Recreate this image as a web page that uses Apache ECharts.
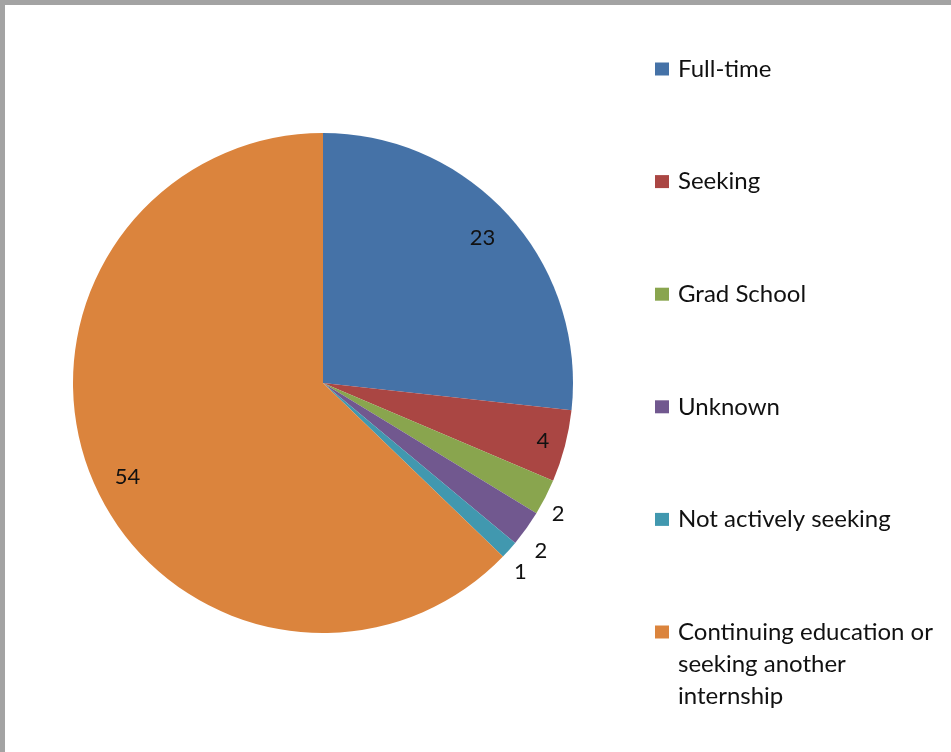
<!DOCTYPE html>
<html>
<head>
<meta charset="utf-8">
<script src="https://cdn.jsdelivr.net/npm/echarts@6/dist/echarts.min.js"></script>
<style>
  html, body { margin: 0; padding: 0; background: #fff; }
  #chart { width: 951px; height: 752px; }
</style>
</head>
<body>
<div id="chart"></div>
<script>
// data
const categories = ['Full-time', 'Seeking', 'Grad School', 'Unknown', 'Not actively seeking', 'Continuing education or\nseeking another\ninternship']
const counts = [23, 4, 2, 2, 1, 54]
const colors = ['#4572A7', '#AA4643', '#89A54E', '#71588F', '#4198AF', '#DB843D']
const insideLabel = [true, true, false, false, false, true]
// small label nudges (px) so numbers sit where the original placed them
const labelNudge = [[-5, 2], [6, 2], [-4, 8], [-1, 11], [-3, 9], [8, 7]]

const chart = echarts.init(document.getElementById('chart'))

const pieData = categories.map((name, i) => ({
  name: name,
  value: counts[i],
  itemStyle: { color: colors[i] }
}))

// label-only rings: inside labels near the rim, outside labels just past it
const labelRing = (showIt) => categories.map((name, i) => ({
  name: name,
  value: counts[i],
  itemStyle: { color: 'transparent' },
  label: { show: showIt(i), offset: labelNudge[i] }
}))

const center = [323, 383]
const labelFont = { fontFamily: 'Lato', fontSize: 22, color: '#111', formatter: '{c}' }

const legendText = {
  fontFamily: 'Lato',
  fontSize: 24,
  lineHeight: 32,
  color: '#111',
  padding: [0, 0, 0, 4]
}

chart.setOption({
  animation: false,
  backgroundColor: '#fff',
  legend: [{
    orient: 'vertical',
    left: 655,
    top: 53,
    padding: 0,
    itemWidth: 14,
    itemHeight: 13,
    itemGap: 80.6,
    icon: 'rect',
    selectedMode: false,
    data: categories.slice(0, 5),
    textStyle: legendText
  }, {
    // multi-line entry: two leading blank lines keep the icon on the first text line
    orient: 'vertical',
    left: 655,
    top: 552,
    padding: 0,
    itemWidth: 14,
    itemHeight: 13,
    icon: 'rect',
    selectedMode: false,
    data: categories.slice(5),
    formatter: name => '\n\n' + name,
    textStyle: legendText
  }],
  graphic: [
    { type: 'rect', left: 0, top: 0, shape: { width: 951, height: 5 }, style: { fill: '#a3a3a3' }, silent: true },
    { type: 'rect', left: 0, top: 0, shape: { width: 5, height: 752 }, style: { fill: '#a3a3a3' }, silent: true }
  ],
  series: [{
    type: 'pie',
    center: center,
    radius: [0, 250],
    startAngle: 90,
    clockwise: true,
    silent: true,
    label: { show: false },
    labelLine: { show: false },
    itemStyle: { borderWidth: 0 },
    data: pieData
  }, {
    type: 'pie',
    center: center,
    radius: [182, 254],
    startAngle: 90,
    silent: true,
    tooltip: { show: false },
    legendHoverLink: false,
    label: Object.assign({ position: 'inside' }, labelFont),
    labelLine: { show: false },
    data: labelRing(i => insideLabel[i])
  }, {
    type: 'pie',
    center: center,
    radius: [250, 282],
    startAngle: 90,
    silent: true,
    tooltip: { show: false },
    legendHoverLink: false,
    label: Object.assign({ position: 'inside' }, labelFont),
    labelLine: { show: false },
    data: labelRing(i => !insideLabel[i])
  }]
})
</script>
</body>
</html>
